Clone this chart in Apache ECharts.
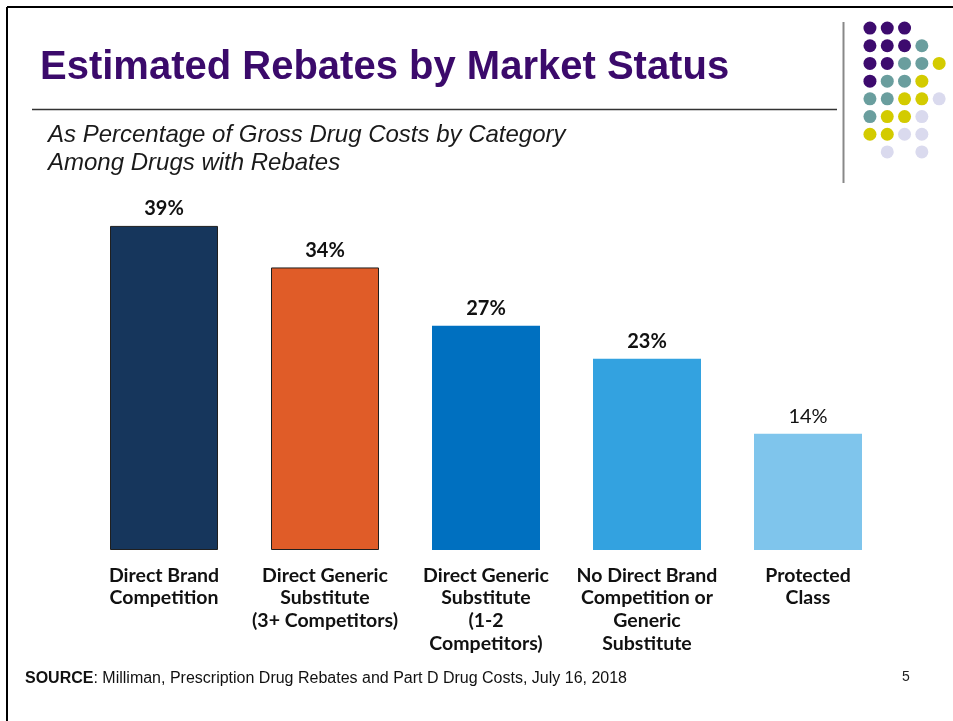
<!DOCTYPE html>
<html>
<head>
<meta charset="utf-8">
<script src="https://cdn.jsdelivr.net/npm/echarts@6/dist/echarts.min.js"></script>
<style>
  html, body { margin: 0; padding: 0; background: #ffffff; }
  #chart { width: 953px; height: 721px; }
</style>
</head>
<body>
<div id="chart"></div>
<script>
// Market status categories and estimated rebate share (% of gross drug cost)
const categories = [
  'Direct Brand\nCompetition',
  'Direct Generic\nSubstitute\n(3+ Competitors)',
  'Direct Generic\nSubstitute\n(1-2\nCompetitors)',
  'No Direct Brand\nCompetition or\nGeneric\nSubstitute',
  'Protected\nClass'
];
const rebatePct = [39, 34, 27, 23, 14];
const barColors = ['#16365c', '#e05c28', '#0070c0', '#33a2e0', '#7fc5ec'];
const boldLabel = [true, true, true, true, false];

// Decorative dot mark beside the title: rows of palette keys (P, T, Y, L, blank)
const dotRows = [
  'PPP..',
  'PPPT.',
  'PPTTY',
  'PTTY.',
  'TTYYL',
  'TYYL.',
  'YYLL.',
  '.L.L.'
];
const dotPalette = { P: '#3d0b6e', T: '#6a9e9e', Y: '#d3cb00', L: '#dadaee' };

const dotData = [];
dotRows.forEach((row, r) => {
  row.split('').forEach((k, c) => {
    if (k !== '.') dotData.push({ value: [c, r], itemStyle: { color: dotPalette[k], opacity: 1 } });
  });
});

const chart = echarts.init(document.getElementById('chart'), null, { renderer: 'canvas' });

const bodyFont = 'Lato, "Open Sans", sans-serif';
const sansFont = '"Liberation Sans", Arial, sans-serif';

chart.setOption({
  animation: false,
  backgroundColor: '#ffffff',
  title: [
    {
      text: 'Estimated Rebates by Market Status',
      left: 35, top: 43,
      textStyle: { fontFamily: sansFont, fontWeight: 'bold', fontSize: 40, color: '#3b0a6b' }
    },
    {
      text: 'As Percentage of Gross Drug Costs by Category\nAmong Drugs with Rebates',
      left: 43, top: 116,
      textStyle: { fontFamily: sansFont, fontStyle: 'italic', fontWeight: 'normal', fontSize: 24, lineHeight: 28, color: '#1a1a1a' }
    },
    {
      text: '{b|SOURCE}: Milliman, Prescription Drug Rebates and Part D Drug Costs, July 16, 2018',
      left: 20, top: 666,
      textStyle: {
        fontFamily: sansFont, fontSize: 16, color: '#111111', fontWeight: 'normal',
        rich: { b: { fontFamily: sansFont, fontSize: 16, fontWeight: 'bold', color: '#111111' } }
      }
    },
    {
      text: '5',
      left: 897, top: 665,
      textStyle: { fontFamily: sansFont, fontSize: 14, fontWeight: 'normal', color: '#222222' }
    }
  ],
  graphic: [
    // slide frame
    { type: 'line', shape: { x1: 7, y1: 7, x2: 953, y2: 7 }, style: { stroke: '#000000', lineWidth: 2 } },
    { type: 'line', shape: { x1: 7, y1: 7, x2: 7, y2: 721 }, style: { stroke: '#000000', lineWidth: 2 } },
    // title rule
    { type: 'line', shape: { x1: 32, y1: 109.5, x2: 837, y2: 109.5 }, style: { stroke: '#333333', lineWidth: 1.5 } },
    // vertical rule beside dot mark
    { type: 'line', shape: { x1: 843.5, y1: 22, x2: 843.5, y2: 183 }, style: { stroke: '#888888', lineWidth: 2 } }
  ],
  grid: [
    { left: 83.5, width: 805, top: 217.6, height: 332.4, containLabel: false },
    { left: 861.3, width: 86.5, top: 19.2, height: 141.6, containLabel: false }
  ],
  xAxis: [
    {
      gridIndex: 0,
      type: 'category',
      data: categories,
      axisLine: { show: false },
      axisTick: { show: false },
      axisLabel: {
        interval: 0,
        margin: 14,
        fontFamily: bodyFont,
        fontWeight: 'bold',
        fontSize: 19.5,
        lineHeight: 22.7,
        color: '#111111',
        align: 'center',
        verticalAlign: 'top'
      }
    },
    { gridIndex: 1, type: 'value', min: -0.5, max: 4.5, show: false }
  ],
  yAxis: [
    { gridIndex: 0, type: 'value', min: 0, max: 40, show: false, splitLine: { show: false } },
    { gridIndex: 1, type: 'value', min: -0.5, max: 7.5, inverse: true, show: false }
  ],
  series: [
    {
      type: 'bar',
      xAxisIndex: 0, yAxisIndex: 0,
      barWidth: 108,
      data: rebatePct.map((v, i) => ({
        value: v,
        itemStyle: {
          color: barColors[i],
          borderColor: i < 2 ? '#1f1f1f' : barColors[i],
          borderWidth: i < 2 ? 1 : 0
        },
        label: {
          show: true,
          position: 'top',
          distance: 7,
          formatter: '{c}%',
          fontFamily: bodyFont,
          fontWeight: boldLabel[i] ? 'bold' : 'normal',
          fontSize: 20,
          color: '#111111'
        }
      }))
    },
    {
      type: 'scatter',
      xAxisIndex: 1, yAxisIndex: 1,
      symbol: 'circle',
      symbolSize: 13,
      silent: true,
      itemStyle: { opacity: 1 },
      data: dotData
    }
  ]
});
</script>
</body>
</html>
